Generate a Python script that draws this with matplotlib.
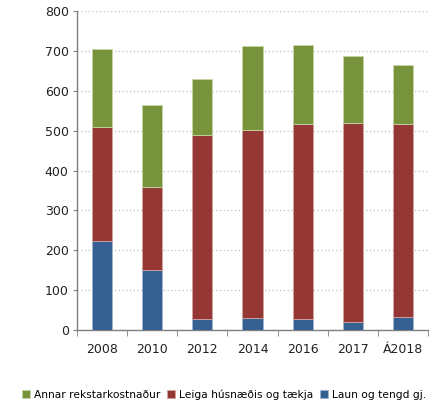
import matplotlib as mpl
mpl.use("Agg")
import matplotlib.pyplot as plt
import numpy as np

years = ["2008", "2010", "2012", "2014", "2016", "2017", "Á2018"]
laun = [223, 150, 27, 30, 27, 19, 32]
leiga = [286, 209, 461, 471, 490, 501, 485]
annar = [196, 205, 142, 211, 198, 167, 147]

C_GREEN, C_RED, C_BLUE = "#77933C", "#953735", "#376092"

mpl.rcParams.update({"font.family": "DejaVu Sans", "font.size": 8.5})

fig = plt.figure(figsize=(4.41, 4.12), dpi=100)
ax = fig.add_axes([0.1746, 0.199, 0.7959, 0.774])

x = np.arange(len(years))
w = 0.4
laun_a = np.array(laun)
leiga_a = np.array(leiga)
ax.bar(x, laun_a, w, color=C_BLUE, edgecolor="#9db3cf", linewidth=0.6,
       label="Laun og tengd gj.", zorder=3)
ax.bar(x, leiga_a, w, bottom=laun_a, color=C_RED, edgecolor="#d3a3a2",
       linewidth=0.6, label="Leiga húsnæðis og tækja", zorder=3)
ax.bar(x, annar, w, bottom=laun_a + leiga_a, color=C_GREEN,
       edgecolor="#c5d6a3", linewidth=0.6, label="Annar rekstarkostnaður",
       zorder=3)

ax.set_xlim(-0.5, len(years) - 0.5)
ax.set_ylim(0, 800)
ax.set_yticks(range(0, 801, 100))
ax.yaxis.grid(True, color="#bdbdbd", ls=(0, (1, 2)), lw=0.9, zorder=0)

ax.set_xticks(x)
ax.set_xticklabels(years)
ax.set_xticks(np.arange(-0.5, len(years)), minor=True)
ax.tick_params(axis="x", which="major", length=0, pad=9)
ax.tick_params(axis="x", which="minor", length=4, color="#808080", direction="out")
ax.tick_params(axis="y", length=3, color="#808080", direction="out", pad=3)
ax.tick_params(labelsize=9, labelcolor="#222222")

for s in ("top", "right"):
    ax.spines[s].set_visible(False)
for s in ("left", "bottom"):
    ax.spines[s].set_color("#808080")
    ax.spines[s].set_linewidth(1.0)

h, l = ax.get_legend_handles_labels()
fig.legend(h[::-1], l[::-1], loc="center", bbox_to_anchor=(0.508, 0.043), ncol=3,
           frameon=False, fontsize=7.7, handlelength=0.75, handleheight=0.75,
           handletextpad=0.3, columnspacing=0.7)

fig.savefig("out.png", dpi=100)
